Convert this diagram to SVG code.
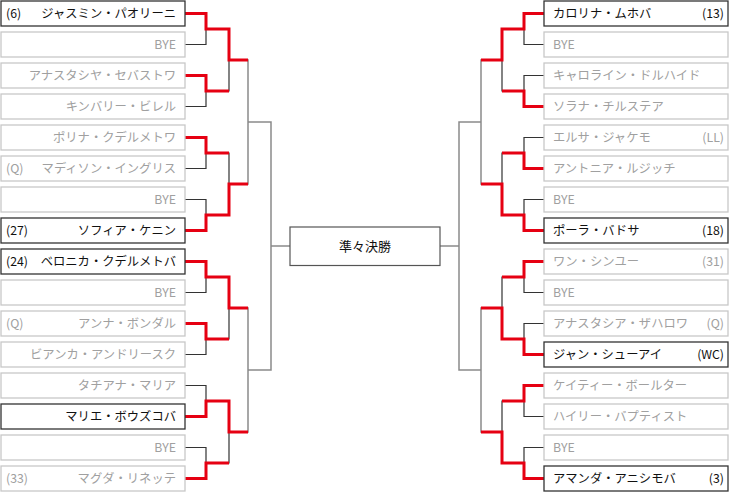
<svg xmlns="http://www.w3.org/2000/svg" width="730" height="494" viewBox="0 0 730 494">
<style>
text{font-family:"Noto Sans CJK JP","Liberation Sans",sans-serif;font-size:12.3px;fill:#a0a0a0}
.b rect{fill:#fff;stroke:#c8c8c8;stroke-width:1.3}
.b.d rect{stroke:#333}
.b.d text{fill:#111}
.r{text-anchor:end}
.ln{fill:none;stroke:#333;stroke-width:1.2}
.lg{fill:none;stroke:#8a8a8a;stroke-width:1.5}
.red{fill:none;stroke:#e60012;stroke-width:3}
</style>
<rect width="730" height="494" fill="#fff"/>
<g id="connectors">
<path class="ln" d="M185 13.5H206V44.5H185M185 75.5H206V106.5H185M185 137.5H206V168.5H185M185 199.5H206V230.5H185M185 261.5H206V292.5H185M185 323.5H206V354.5H185M185 385.5H206V416.5H185M185 447.5H206V478.5H185
M206 29H229V91H206M206 153H229V215H206M206 277H229V339H206M206 401H229V463H206
M544 13.5H524V44.5H544M544 75.5H524V106.5H544M544 137.5H524V168.5H544M544 199.5H524V230.5H544M544 261.5H524V292.5H544M544 323.5H524V354.5H544M544 385.5H524V416.5H544M544 447.5H524V478.5H544
M524 29H502V91H524M524 153H502V215H524M524 277H502V339H524M524 401H502V463H524"/>
<path class="lg" d="M229 60H248V184H229M229 308H248V432H229M248 122H271V370H248M271 246H290
M502 60H481V184H502M502 308H481V432H502M481 122H459V370H481M459 246H440"/>
<path class="red" d="M185 13.5H206V29H229V60H248M185 75.5H206V91H229M185 137.5H206V153H229M185 230.5H206V215H229V184H248M185 261.5H206V277H229V308H248M185 323.5H206V339H229M185 416.5H206V401H229V432H248M185 478.5H206V463H229
M544 13.5H524V29H502V60H481M544 106.5H524V91H502M544 168.5H524V153H502M544 230.5H524V215H502V184H481M544 261.5H524V277H502M544 354.5H524V339H502V308H481M544 385.5H524V401H502M544 478.5H524V463H502V432H481"/>
</g>
<g id="qf"><rect x="290" y="227" width="150" height="38.5" fill="#fff" stroke="#555" stroke-width="1.2"/><text x="365" y="251" text-anchor="middle" style="fill:#111;font-size:13px">準々決勝</text></g>
<g id="L0" class="b d"><rect x="1" y="1" width="184" height="25"/><text x="6" y="18">(6)</text><text class="r" x="176" y="18">ジャスミン・パオリーニ</text></g>
<g id="L1" class="b"><rect x="1" y="32" width="184" height="25"/><text class="r" x="176" y="49">BYE</text></g>
<g id="L2" class="b"><rect x="1" y="63" width="184" height="25"/><text class="r" x="176" y="80">アナスタシヤ・セバストワ</text></g>
<g id="L3" class="b"><rect x="1" y="94" width="184" height="25"/><text class="r" x="176" y="111">キンバリー・ビレル</text></g>
<g id="L4" class="b"><rect x="1" y="125" width="184" height="25"/><text class="r" x="176" y="142">ポリナ・クデルメトワ</text></g>
<g id="L5" class="b"><rect x="1" y="156" width="184" height="25"/><text x="6" y="173">(Q)</text><text class="r" x="176" y="173">マディソン・イングリス</text></g>
<g id="L6" class="b"><rect x="1" y="187" width="184" height="25"/><text class="r" x="176" y="204">BYE</text></g>
<g id="L7" class="b d"><rect x="1" y="218" width="184" height="25"/><text x="6" y="235">(27)</text><text class="r" x="176" y="235">ソフィア・ケニン</text></g>
<g id="L8" class="b d"><rect x="1" y="249" width="184" height="25"/><text x="6" y="266">(24)</text><text class="r" x="176" y="266">ベロニカ・クデルメトバ</text></g>
<g id="L9" class="b"><rect x="1" y="280" width="184" height="25"/><text class="r" x="176" y="297">BYE</text></g>
<g id="L10" class="b"><rect x="1" y="311" width="184" height="25"/><text x="6" y="328">(Q)</text><text class="r" x="176" y="328">アンナ・ボンダル</text></g>
<g id="L11" class="b"><rect x="1" y="342" width="184" height="25"/><text class="r" x="176" y="359">ビアンカ・アンドリースク</text></g>
<g id="L12" class="b"><rect x="1" y="373" width="184" height="25"/><text class="r" x="176" y="390">タチアナ・マリア</text></g>
<g id="L13" class="b d"><rect x="1" y="404" width="184" height="25"/><text class="r" x="176" y="421">マリエ・ボウズコバ</text></g>
<g id="L14" class="b"><rect x="1" y="435" width="184" height="25"/><text class="r" x="176" y="452">BYE</text></g>
<g id="L15" class="b"><rect x="1" y="466" width="184" height="25"/><text x="6" y="483">(33)</text><text class="r" x="176" y="483">マグダ・リネッテ</text></g>
<g id="R0" class="b d"><rect x="544" y="1" width="184" height="25"/><text x="553" y="18">カロリナ・ムホバ</text><text class="r" x="724" y="18">(13)</text></g>
<g id="R1" class="b"><rect x="544" y="32" width="184" height="25"/><text x="553" y="49">BYE</text></g>
<g id="R2" class="b"><rect x="544" y="63" width="184" height="25"/><text x="553" y="80">キャロライン・ドルハイド</text></g>
<g id="R3" class="b"><rect x="544" y="94" width="184" height="25"/><text x="553" y="111">ソラナ・チルステア</text></g>
<g id="R4" class="b"><rect x="544" y="125" width="184" height="25"/><text x="553" y="142">エルサ・ジャケモ</text><text class="r" x="724" y="142">(LL)</text></g>
<g id="R5" class="b"><rect x="544" y="156" width="184" height="25"/><text x="553" y="173">アントニア・ルジッチ</text></g>
<g id="R6" class="b"><rect x="544" y="187" width="184" height="25"/><text x="553" y="204">BYE</text></g>
<g id="R7" class="b d"><rect x="544" y="218" width="184" height="25"/><text x="553" y="235">ポーラ・バドサ</text><text class="r" x="724" y="235">(18)</text></g>
<g id="R8" class="b"><rect x="544" y="249" width="184" height="25"/><text x="553" y="266">ワン・シンユー</text><text class="r" x="724" y="266">(31)</text></g>
<g id="R9" class="b"><rect x="544" y="280" width="184" height="25"/><text x="553" y="297">BYE</text></g>
<g id="R10" class="b"><rect x="544" y="311" width="184" height="25"/><text x="553" y="328">アナスタシア・ザハロワ</text><text class="r" x="724" y="328">(Q)</text></g>
<g id="R11" class="b d"><rect x="544" y="342" width="184" height="25"/><text x="553" y="359">ジャン・シューアイ</text><text class="r" x="724" y="359">(WC)</text></g>
<g id="R12" class="b"><rect x="544" y="373" width="184" height="25"/><text x="553" y="390">ケイティー・ボールター</text></g>
<g id="R13" class="b"><rect x="544" y="404" width="184" height="25"/><text x="553" y="421">ハイリー・バプティスト</text></g>
<g id="R14" class="b"><rect x="544" y="435" width="184" height="25"/><text x="553" y="452">BYE</text></g>
<g id="R15" class="b d"><rect x="544" y="466" width="184" height="25"/><text x="553" y="483">アマンダ・アニシモバ</text><text class="r" x="724" y="483">(3)</text></g>
</svg>
